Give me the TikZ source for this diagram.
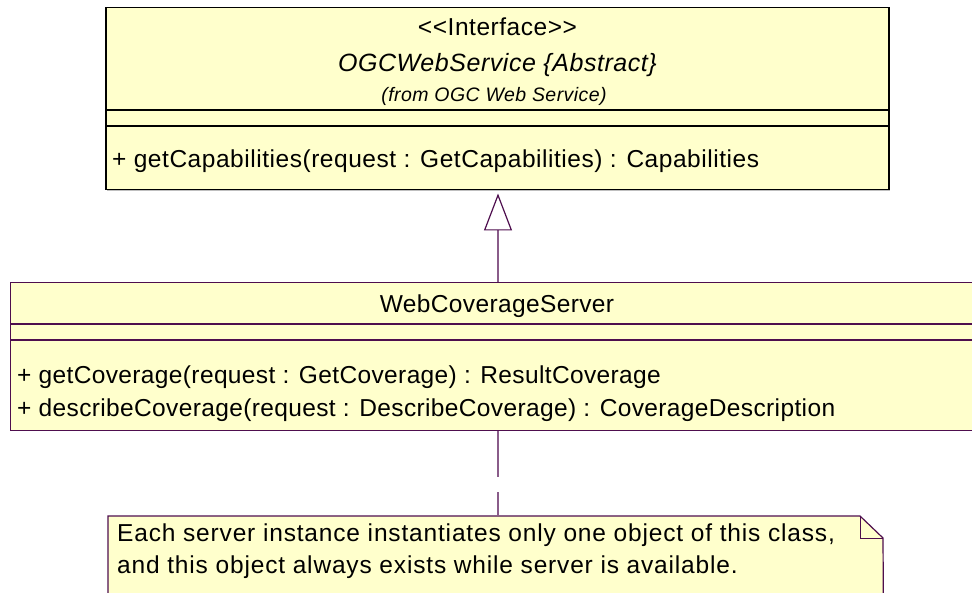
\documentclass[tikz,border=0pt]{standalone}
\usepackage{fontspec}
\setmainfont{Liberation Sans}
\newfontfamily\rosefont[LetterSpace=2.2, Ligatures=TeXOff]{Liberation Sans}
\newfontfamily\rosefontB[LetterSpace=1.5, Ligatures=TeXOff]{Liberation Sans}
\newfontfamily\rosefontC[LetterSpace=3.4, Ligatures=TeXOff]{Liberation Sans}
\usetikzlibrary{arrows.meta}
\definecolor{umlfill}{HTML}{FFFFCC}
\definecolor{umlline}{HTML}{4E0E4E}
\definecolor{connline}{HTML}{8A5C8A}
\tikzset{
  classbox/.style={draw=umlline, line width=1.2pt, fill=umlfill, anchor=north west, inner sep=0pt},
  txt/.style={anchor=base, inner sep=0pt, font=\rosefont\fontsize{24.5}{28}\selectfont},
  txtl/.style={anchor=base west, inner sep=0pt, font=\rosefont\fontsize{24.5}{28}\selectfont},
  wtxt/.style={inner sep=0pt, font=\rosefontB\fontsize{24.5}{28}\selectfont},
  ntxt/.style={anchor=base west, inner sep=0pt, font=\rosefontC\fontsize{24.5}{28}\selectfont},
  small/.style={anchor=base, inner sep=0pt, font=\rosefont\fontsize{19.5}{22}\selectfont\itshape},
}
\begin{document}
\begin{tikzpicture}[x=1pt, y=-1pt]
\useasboundingbox (0,0) rectangle (972,593);
% top interface box
\fill[black!25] (107,9) rectangle (890,191);
\node[classbox, draw=black, line width=1.5pt, minimum width=783pt, minimum height=182pt] (top) at (105,7) {};
\draw[line width=1.2pt] (105,110) -- (888,110);
\draw[line width=1.2pt] (105,126) -- (888,126);
\node[txt] (t1) at (497.5,36) {<<Interface>>};
\node[txt, font=\rosefont\fontsize{25}{28}\selectfont\itshape] (t2) at (497.5,72) {OGCWebService \{Abstract\}};
\node[small] (t3) at (494,102) {(from OGC Web Service)};
\node[txtl] (t4) at (112,168) {+ getCapabilities(request : GetCapabilities) : Capabilities};
% WebCoverageServer box
\node[classbox, minimum width=970pt, minimum height=148pt] (wcs) at (10,282) {};
\draw[umlline, line width=1.2pt] (10,324) -- (980,324);
\draw[umlline, line width=1.2pt] (10,340) -- (980,340);
\node[wtxt, anchor=base] (w1) at (497,313) {WebCoverageServer};
\node[wtxt, anchor=base west] (w2) at (17,384) {+ getCoverage(request : GetCoverage) : ResultCoverage};
\node[wtxt, anchor=base west] (w3) at (17,417) {+ describeCoverage(request : DescribeCoverage) : CoverageDescription};
% note
\node[anchor=north west, inner sep=0pt, minimum width=775pt, minimum height=90pt] (note) at (108,516) {};
\fill[umlfill] (note.north west) -- ++(752,0) -- ++(23,22) -- (note.south east) -- (note.south west) -- cycle;
\draw[umlline, line width=1.2pt] (note.south west) -- (note.north west) -- ++(752,0) -- ++(23,22) -- (note.south east);
\draw[umlline, line width=1pt] (860,516) -- (860,538) -- (883,538);
\node[ntxt] (n1) at (117,541) {Each server instance instantiates only one object of this class,};
\node[ntxt] (n2) at (117,573) {and this object always exists while server is available.};
% connectors
\coordinate (ax) at (498,0);
\draw[connline, line width=1.2pt, -{Triangle[open, length=37pt, width=28pt, line width=1.2pt, color=umlline]}]
  (ax |- wcs.north) -- ([yshift=-3pt]ax |- top.south);
\draw[connline, line width=1.2pt, dash pattern=on 46pt off 15pt] (ax |- wcs.south) -- (ax |- note.north);
\end{tikzpicture}
\end{document}
